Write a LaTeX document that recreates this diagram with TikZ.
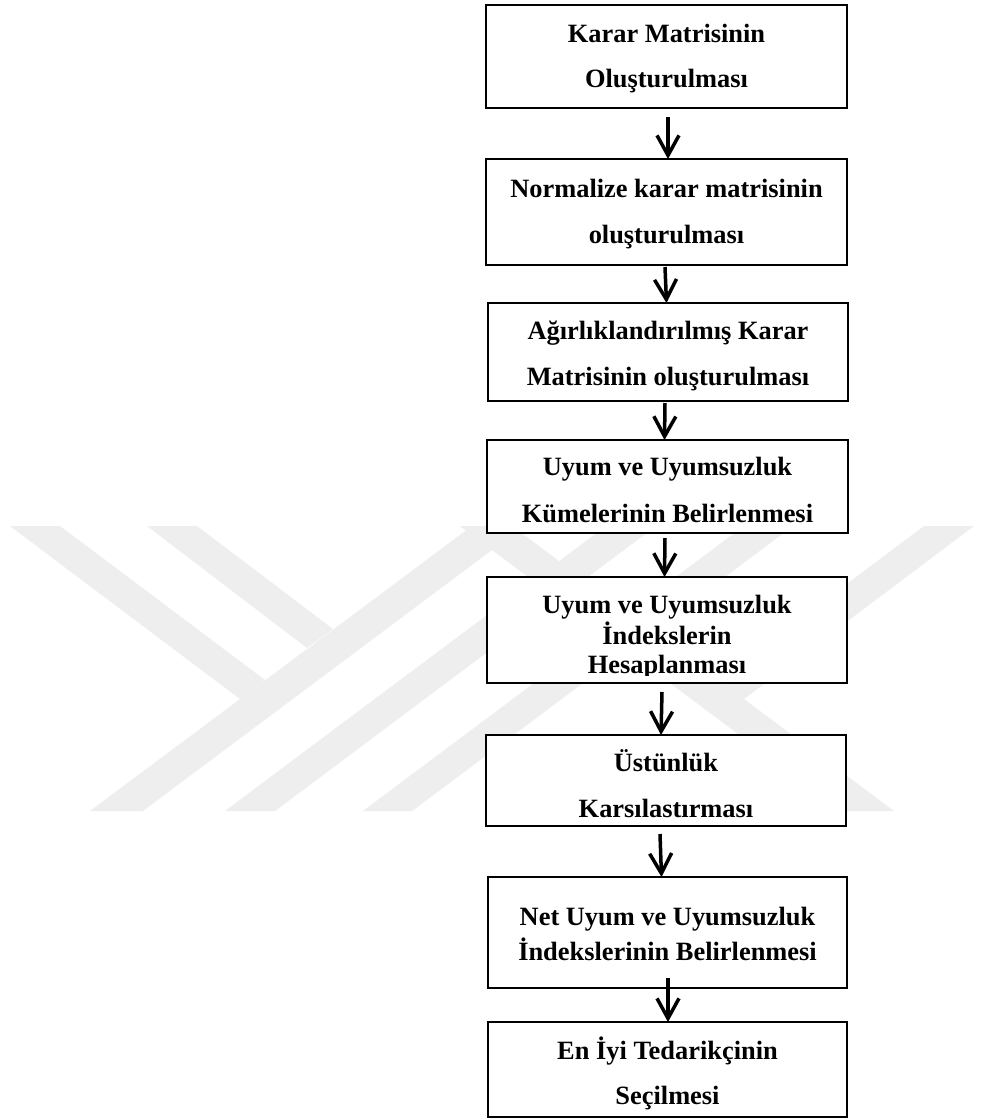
\documentclass[tikz,border=0pt]{standalone}
\usepackage{fontspec}
\setmainfont{Liberation Serif}
\usetikzlibrary{arrows.meta}
\definecolor{wm}{RGB}{238,238,238}
\begin{document}
\begin{tikzpicture}[x=1pt,y=-1pt,
  box/.style={draw=black, fill=white, line width=2.6pt, rectangle, inner sep=0pt, outer sep=0pt},
  lbl/.style={anchor=base, inner sep=0pt, font=\fontsize{26.4}{30}\selectfont\bfseries},
  arr/.style={line width=3.5pt, -{Straight Barb[length=20pt,width=22pt]}},
  wmark/.style={fill=wm, draw=none}]
\useasboundingbox (0,0) rectangle (981,1120);
\fill[white] (0,0) rectangle (981,1120);
% watermark
\fill[wmark] (10,526) -- (60,526) -- (265,680) -- (240,699) -- cycle;
\fill[wmark] (147,526) -- (197,526) -- (333,629) -- (307,648) -- cycle;
\fill[wmark] (90,811) -- (143,811) -- (524,526) -- (472,526) -- cycle;
\fill[wmark] (225,811) -- (275,811) -- (656,526) -- (606,526) -- cycle;
\fill[wmark] (363,811) -- (412,811) -- (793,526) -- (744,526) -- cycle;
\fill[wmark] (974,526) -- (924,526) -- (719,680) -- (744,699) -- cycle;
\fill[wmark] (894,811) -- (841,811) -- (460,526) -- (512,526) -- cycle;
% boxes
\node[box, minimum width=361pt, minimum height=103pt] (b1) at (666.5,56.5) {};
\node[box, minimum width=361pt, minimum height=106pt] (b2) at (666.5,212) {};
\node[box, minimum width=360pt, minimum height=98pt] (b3) at (668,352) {};
\node[box, minimum width=361pt, minimum height=93pt] (b4) at (667.5,486.5) {};
\node[box, minimum width=360pt, minimum height=106pt] (b5) at (667,630) {};
\node[box, minimum width=360pt, minimum height=91pt] (b6) at (666,780.5) {};
\node[box, minimum width=359pt, minimum height=111pt] (b7) at (667.5,932.5) {};
\node[box, minimum width=359pt, minimum height=95pt] (b8) at (667.5,1069.5) {};
% texts
\node[lbl] (t1a) at (666.5,42) {Karar Matrisinin};
\node[lbl] (t1b) at (666.5,87) {Oluşturulması};
\node[lbl] (t2a) at (666.5,197) {Normalize karar matrisinin};
\node[lbl] (t2b) at (666.5,243) {oluşturulması};
\node[lbl] (t3a) at (668,339) {Ağırlıklandırılmış Karar};
\node[lbl] (t3b) at (668,385) {Matrisinin oluşturulması};
\node[lbl] (t4a) at (667.5,475) {Uyum ve Uyumsuzluk};
\node[lbl] (t4b) at (667.5,522) {Kümelerinin Belirlenmesi};
\node[lbl] (t5a) at (667,613) {Uyum ve Uyumsuzluk};
\node[lbl] (t5b) at (667,644) {İndekslerin};
\begin{scope}
\clip (487,640) rectangle (847,675);
\node[lbl] (t5c) at (667,673) {Hesaplanması};
\end{scope}
\node[lbl] (t6a) at (666,771) {Üstünlük};
\node[lbl] (t6b) at (666,817) {Karsılastırması};
\node[lbl] (t7a) at (667.5,925) {Net Uyum ve Uyumsuzluk};
\node[lbl] (t7b) at (667.5,960) {İndekslerinin Belirlenmesi};
\node[lbl] (t8a) at (667.5,1059) {En İyi Tedarikçinin};
\node[lbl] (t8b) at (667.5,1104) {Seçilmesi};
% arrows
\draw[arr] ([xshift=1.5pt,yshift=-9pt]b1.south) -- ([xshift=1.5pt]b2.north);
\draw[arr] ([xshift=-1.5pt,yshift=-2pt]b2.south) -- ([xshift=-1.5pt]b3.north);
\draw[arr] ([xshift=-3pt,yshift=-2pt]b3.south) -- ([xshift=-3pt]b4.north);
\draw[arr] ([xshift=-2.5pt,yshift=-5pt]b4.south) -- ([xshift=-2.5pt]b5.north);
\draw[arr] ([xshift=-5pt,yshift=-9pt]b5.south) -- ([xshift=-5pt]b6.north);
\draw[arr] ([xshift=-6pt,yshift=-8pt]b6.south) -- ([xshift=-6pt]b7.north);
\draw[arr] ([xshift=0.5pt,yshift=10pt]b7.south) -- ([xshift=0.5pt]b8.north);
\end{tikzpicture}
\end{document}
